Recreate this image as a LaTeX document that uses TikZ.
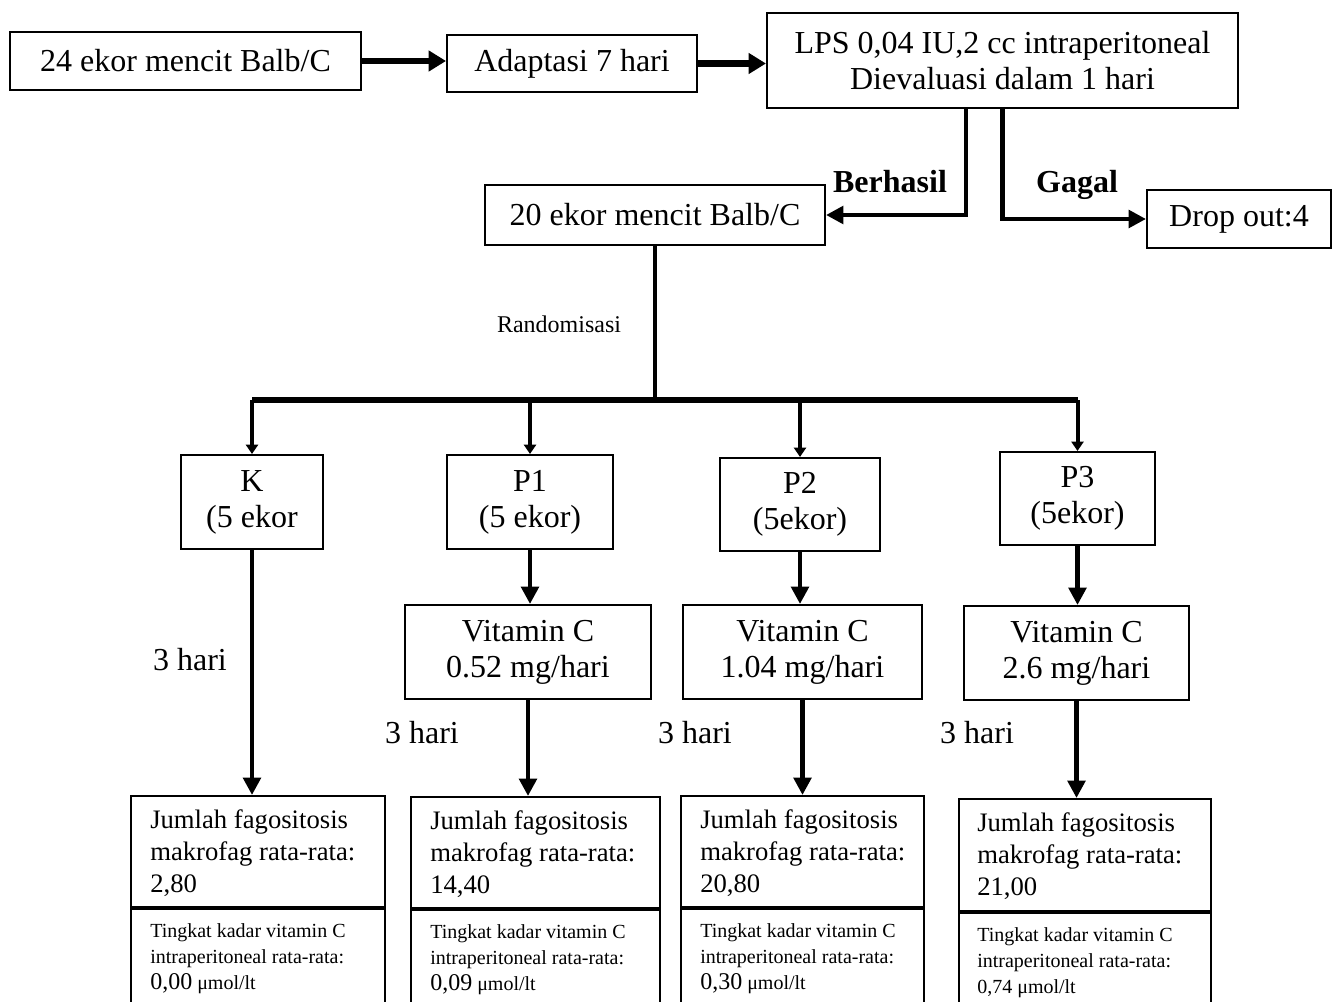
\documentclass[tikz,border=0pt]{standalone}
\usepackage{fontspec}
\setmainfont{Liberation Serif}
\usetikzlibrary{arrows.meta,calc}
\begin{document}
\begin{tikzpicture}[x=0.75pt,y=-0.75pt,
  box/.style={draw, line width=1.5pt, inner sep=0pt, align=center, font=\fontsize{24}{27}\selectfont},
  big/.style={line width=5pt, -{Triangle[length=13pt,width=15pt]}},
  mid/.style={line width=3.5pt, -{Triangle[length=13pt,width=13pt]}},
  small/.style={line width=3pt, -{Triangle[length=7pt,width=9pt]}},
  plain/.style={line width=3.5pt},
  lbl/.style={inner sep=0pt, font=\fontsize{24}{28}\selectfont},
  blbl/.style={inner sep=0pt, anchor=base, font=\fontsize{24}{28}\selectfont\bfseries},
  upt/.style={inner sep=0pt, align=left, anchor=north west, font=\fontsize{20}{24}\selectfont},
  lowt/.style={inner sep=0pt, align=left, anchor=north west, font=\fontsize{15}{19.5}\selectfont},
]
\clip (0,0) rectangle (1338,1002);
\fill[white] (0,0) rectangle (1338,1002);

% top row
\node[box, minimum width=263.3pt, minimum height=43.5pt] (A) at (185.5,61) {24 ekor mencit Balb/C};
\node[box, minimum width=187.5pt, minimum height=42.8pt] (B) at (572,63.5) {Adaptasi 7 hari};
\node[box, minimum width=353.3pt, minimum height=71.3pt] (C) at (1002.5,60.5) {LPS 0,04 IU,2 cc intraperitoneal\\Dievaluasi dalam 1 hari};
\draw[big] (A.east) -- (A.east -| B.west);
\draw[big] (B.east) -- (B.east -| C.west);

% second row
\node[box, minimum width=255pt, minimum height=45pt] (D) at (655,215) {20 ekor mencit Balb/C};
\node[box, minimum width=138pt, minimum height=43.5pt] (E) at (1239,219) {Drop out:4};
\draw[mid] ([xshift=-27.4pt]C.south) |- (D.east);
\draw[mid] (C.south) |- (E.west);
\node[blbl] (berhasil) at (890,192) {Berhasil};
\node[blbl] (gagal) at (1077,192) {Gagal};

% randomisation
\coordinate (bar) at (657,400);
\node[inner sep=0pt, font=\fontsize{18}{20}\selectfont] (rand) at (559,324) {Randomisasi};

% groups
\node[box, minimum width=106.5pt, minimum height=70.5pt] (K) at (252,502) {K\\(5 ekor};
\node[box, minimum width=124.5pt, minimum height=70.5pt] (P1) at (530,502) {P1\\(5 ekor)};
\node[box, minimum width=120pt, minimum height=69.8pt] (P2) at (800,504.5) {P2\\(5ekor)};
\node[box, minimum width=116.3pt, minimum height=69.8pt] (P3) at (1077.5,498.5) {P3\\(5ekor)};

\draw[plain] (D.south) -- (D.south |- bar);
\draw[line width=5pt] (K.north |- bar) -- (P3.north |- bar);
\draw[small] (K.north |- bar) -- (K.north);
\draw[small] (P1.north |- bar) -- (P1.north);
\draw[small] (P2.north |- bar) -- (P2.north);
\draw[small] (P3.north |- bar) -- (P3.north);

% vitamin C boxes
\node[box, minimum width=184.5pt, minimum height=70.5pt] (V1) at (528,652) {Vitamin C\\0.52 mg/hari};
\node[box, minimum width=179.3pt, minimum height=70.5pt] (V2) at (802.5,652) {Vitamin C\\1.04 mg/hari};
\node[box, minimum width=168.8pt, minimum height=70.5pt] (V3) at (1076.5,653) {Vitamin C\\2.6 mg/hari};
\draw[mid] (P1.south) -- (P1.south |- V1.north);
\draw[mid] (P2.south) -- (P2.south |- V2.north);
\draw[mid] (P3.south) -- (P3.south |- V3.north);

% result boxes
\node[box, anchor=north west, minimum width=190.5pt, minimum height=83.3pt] (R1) at (130,795) {};
\node[box, anchor=north west, minimum width=190.5pt, minimum height=82.5pt] (R1b) at (R1.south west) {};
\node[box, anchor=north west, minimum width=186.8pt, minimum height=83.3pt] (R2) at (410,796) {};
\node[box, anchor=north west, minimum width=186.8pt, minimum height=82.5pt] (R2b) at (R2.south west) {};
\node[box, anchor=north west, minimum width=182.3pt, minimum height=83.3pt] (R3) at (680,795) {};
\node[box, anchor=north west, minimum width=182.3pt, minimum height=82.5pt] (R3b) at (R3.south west) {};
\node[box, anchor=north west, minimum width=189pt, minimum height=84pt] (R4) at (958,798) {};
\node[box, anchor=north west, minimum width=189pt, minimum height=82.5pt] (R4b) at (R4.south west) {};

\draw[mid] (K.south) -- (K.south |- R1.north);
\draw[mid] (V1.south) -- (V1.south |- R2.north);
\draw[mid] (V2.south) -- (V2.south |- R3.north);
\draw[mid] (V3.south) -- (V3.south |- R4.north);

\node[lbl] (h1) at (190,660) {3 hari};
\node[lbl] (h2) at (422,733) {3 hari};
\node[lbl] (h3) at (695,733) {3 hari};
\node[lbl] (h4) at (977,733) {3 hari};

\node[upt] (t1) at ([shift={(20,14)}]R1.north west) {Jumlah fagositosis\\makrofag rata-rata:\\2,80};
\node[upt] (t2) at ([shift={(20,14)}]R2.north west) {Jumlah fagositosis\\makrofag rata-rata:\\14,40};
\node[upt] (t3) at ([shift={(20,14)}]R3.north west) {Jumlah fagositosis\\makrofag rata-rata:\\20,80};
\node[upt] (t4) at ([shift={(19,14)}]R4.north west) {Jumlah fagositosis\\makrofag rata-rata:\\21,00};

\node[lowt] (u1) at ([shift={(20,15)}]R1b.north west) {Tingkat kadar vitamin C\\intraperitoneal rata-rata:\\{\fontsize{18}{19.5}\selectfont 0,00} μmol/lt};
\node[lowt] (u2) at ([shift={(20,15)}]R2b.north west) {Tingkat kadar vitamin C\\intraperitoneal rata-rata:\\{\fontsize{18}{19.5}\selectfont 0,09} μmol/lt};
\node[lowt] (u3) at ([shift={(20,15)}]R3b.north west) {Tingkat kadar vitamin C\\intraperitoneal rata-rata:\\{\fontsize{18}{19.5}\selectfont 0,30} μmol/lt};
\node[lowt] (u4) at ([shift={(19,15)}]R4b.north west) {Tingkat kadar vitamin C\\intraperitoneal rata-rata:\\0,74 μmol/lt};
\end{tikzpicture}
\end{document}
